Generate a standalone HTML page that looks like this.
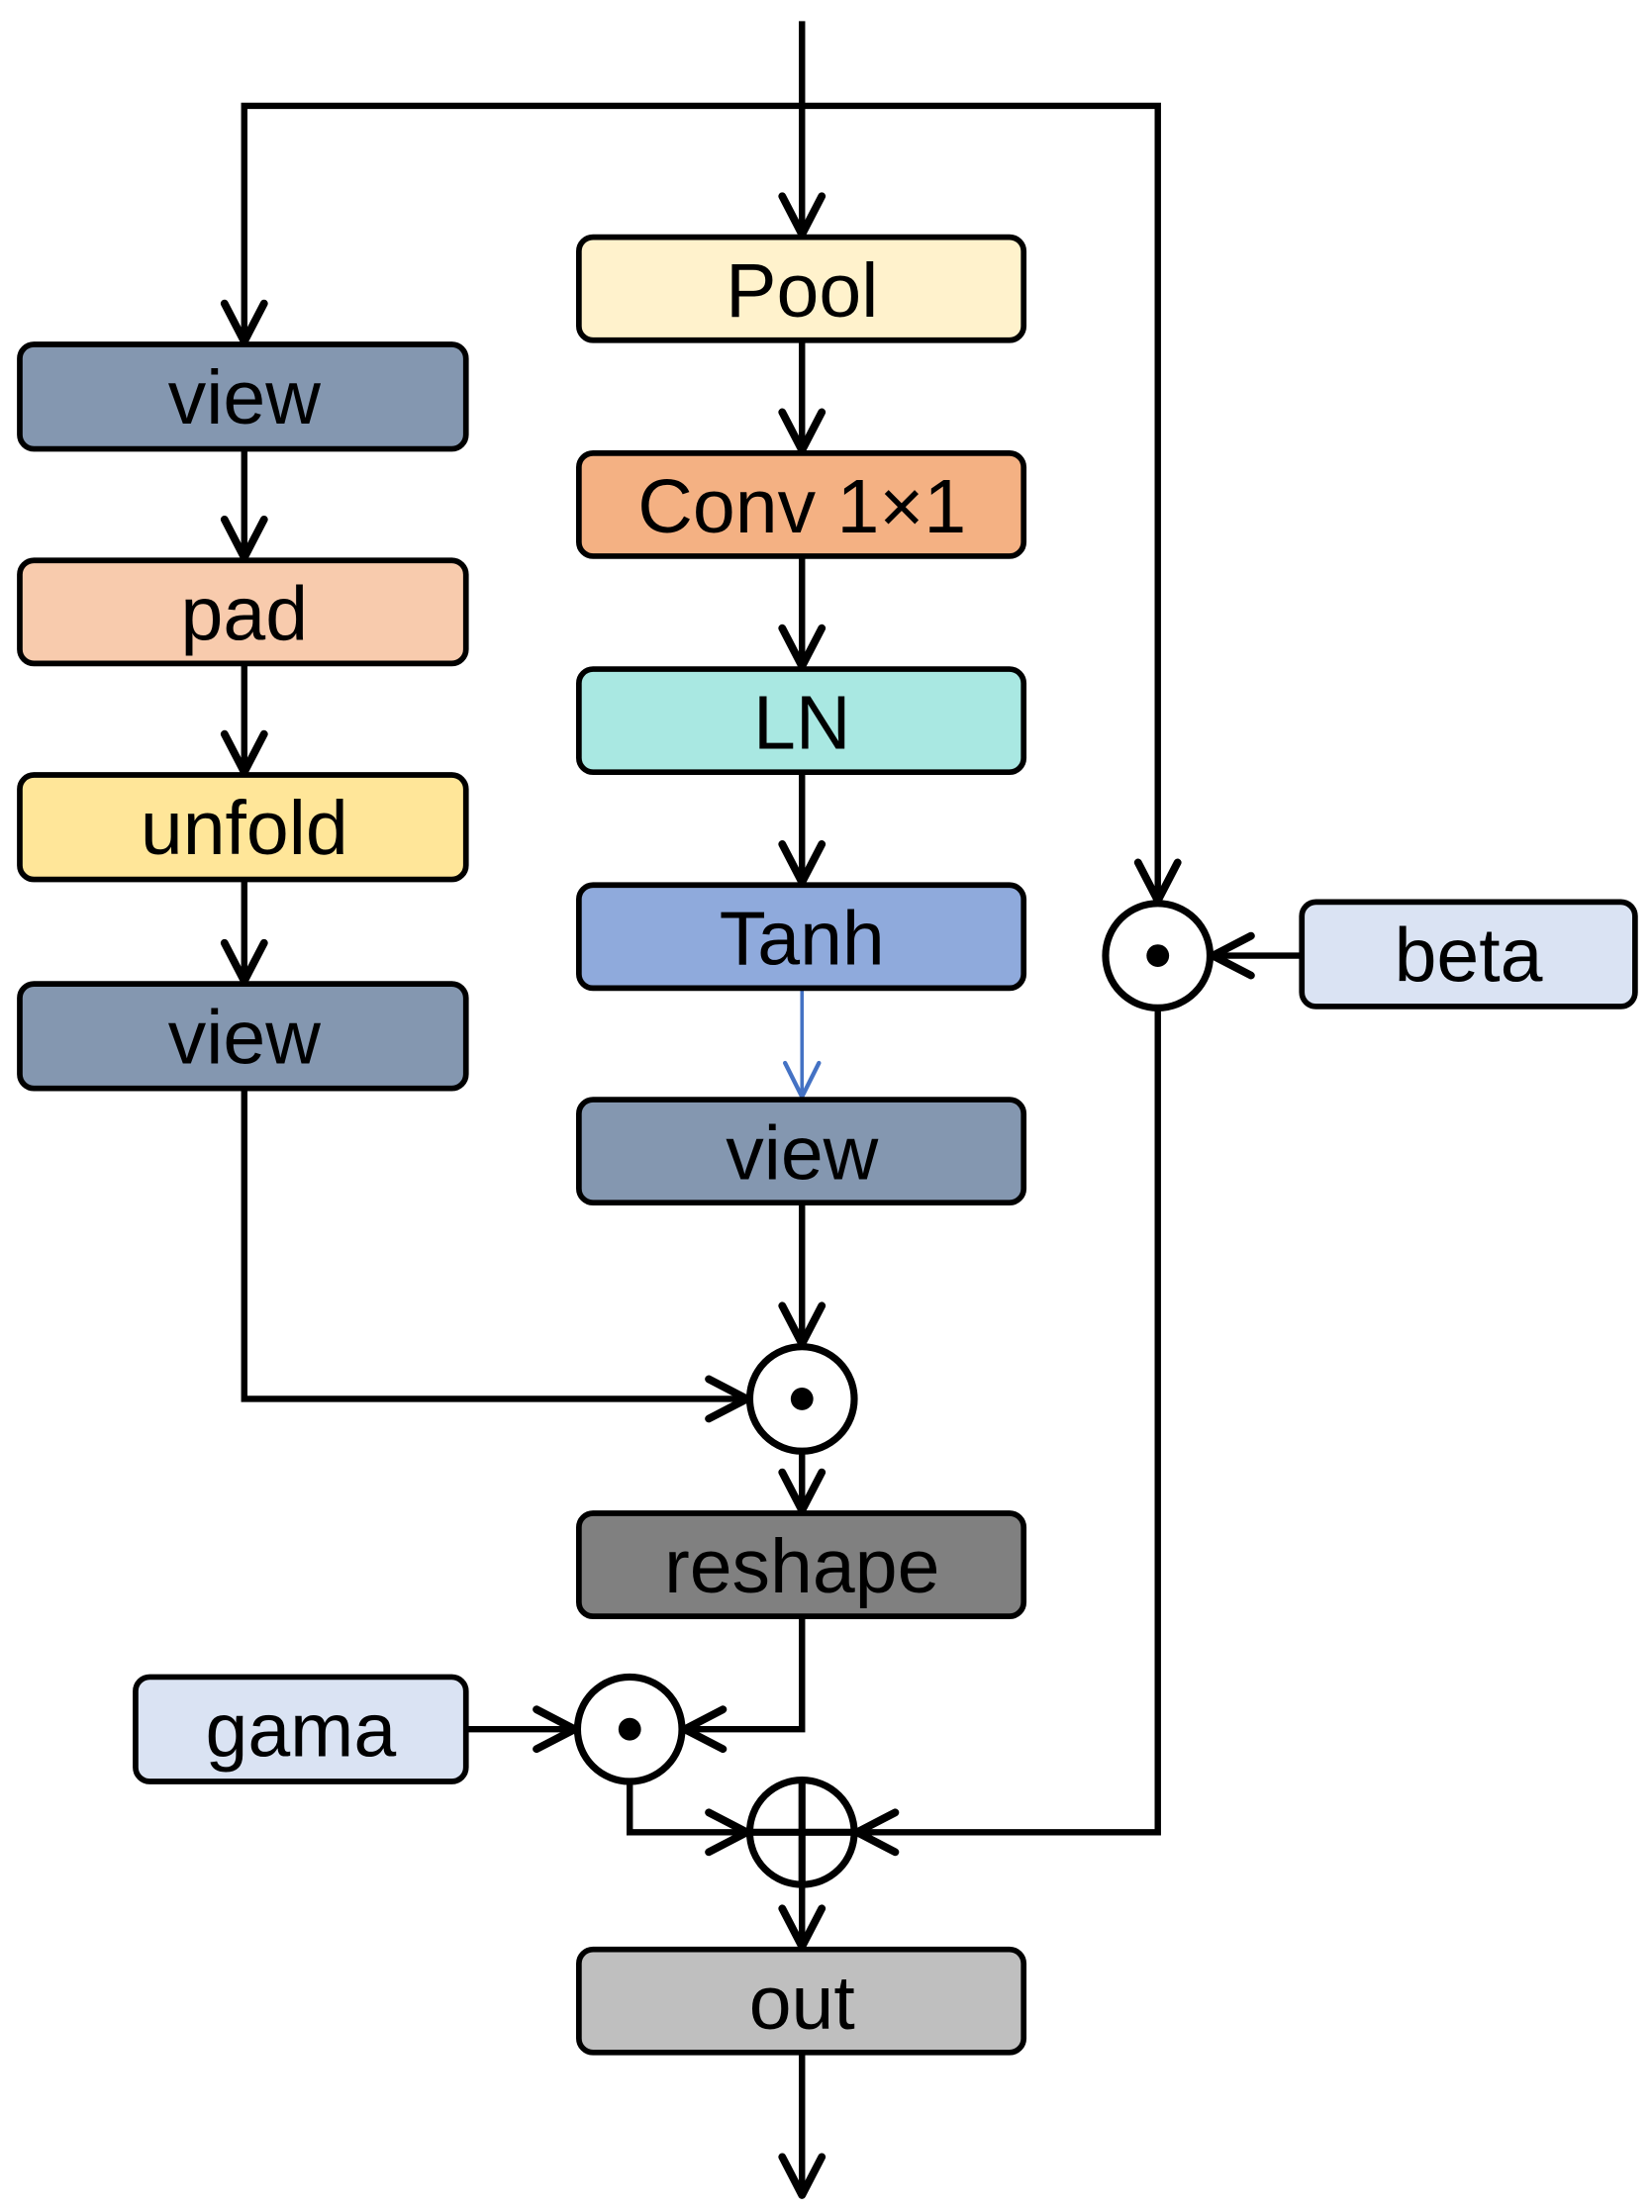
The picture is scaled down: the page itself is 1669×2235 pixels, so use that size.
<!DOCTYPE html>
<html><head><meta charset="utf-8"><style>
html,body{margin:0;padding:0;background:#fff;}
svg{display:block;}
text{font-family:"Liberation Sans",Arial,sans-serif;font-size:54px;text-anchor:middle;dominant-baseline:central;fill:#000;}
</style></head><body>
<svg width="1669" height="2235" viewBox="0 0 1170 1567" preserveAspectRatio="none" xmlns="http://www.w3.org/2000/svg">
<defs>
<marker id="a" viewBox="0 0 34 34" refX="30" refY="17" markerWidth="34" markerHeight="34" markerUnits="userSpaceOnUse" orient="auto">
<path d="M3,3 L30,17 L3,31" fill="none" stroke="#000" stroke-width="5.5" stroke-linecap="round" stroke-linejoin="round"/></marker>
<marker id="b" viewBox="0 0 34 34" refX="30" refY="17" markerWidth="34" markerHeight="34" markerUnits="userSpaceOnUse" orient="auto">
<path d="M6,5 L30,17 L6,29" fill="none" stroke="#4472C4" stroke-width="3" stroke-linecap="round"/></marker>
</defs>
<g fill="none" stroke="#000" stroke-width="4.5">
<path d="M568,15 V166" marker-end="url(#a)"/>
<path d="M568,75 H173 V242" marker-end="url(#a)"/>
<path d="M568,75 H820 V638" marker-end="url(#a)"/>
<path d="M922,677 H859" marker-end="url(#a)"/>
<path d="M568,241 V319" marker-end="url(#a)"/>
<path d="M568,394 V472" marker-end="url(#a)"/>
<path d="M568,547 V625" marker-end="url(#a)"/>
<path d="M173,318 V395" marker-end="url(#a)"/>
<path d="M173,470 V547" marker-end="url(#a)"/>
<path d="M173,623 V695" marker-end="url(#a)"/>
<path d="M173,771 V991 H529" marker-end="url(#a)"/>
<path d="M568,852 V952" marker-end="url(#a)"/>
<path d="M568,1028 V1070" marker-end="url(#a)"/>
<path d="M568,1145 V1225 H485" marker-end="url(#a)"/>
<path d="M330,1225 H407" marker-end="url(#a)"/>
<path d="M446,1262 V1298 H529" marker-end="url(#a)"/>
<path d="M820,714 V1298 H607" marker-end="url(#a)"/>
<path d="M568,1335 V1379" marker-end="url(#a)"/>
<path d="M568,1454 V1555" marker-end="url(#a)"/>
</g>
<path d="M568,700 V777" stroke="#4472C4" stroke-width="2.5" fill="none" marker-end="url(#b)"/>
<g stroke="#000" stroke-width="4">
<rect x="410" y="168" width="315" height="73" rx="10" fill="#FFF2CC"/>
<rect x="410" y="321" width="315" height="73" rx="10" fill="#F4B183"/>
<rect x="410" y="474" width="315" height="73" rx="10" fill="#A9E8E2"/>
<rect x="410" y="627" width="315" height="73" rx="10" fill="#8FAADC"/>
<rect x="410" y="779" width="315" height="73" rx="10" fill="#8497B0"/>
<rect x="14" y="244" width="316" height="74" rx="10" fill="#8497B0"/>
<rect x="14" y="397" width="316" height="73" rx="10" fill="#F8CBAD"/>
<rect x="14" y="549" width="316" height="74" rx="10" fill="#FFE699"/>
<rect x="14" y="697" width="316" height="74" rx="10" fill="#8497B0"/>
<rect x="410" y="1072" width="315" height="73" rx="10" fill="#808080"/>
<rect x="410" y="1381" width="315" height="73" rx="10" fill="#BFBFBF"/>
<rect x="96" y="1188" width="234" height="74" rx="10" fill="#DAE3F3"/>
<rect x="922" y="639" width="236" height="74" rx="10" fill="#DAE3F3"/>
</g>
<g stroke="#000" stroke-width="5">
<circle cx="820" cy="677" r="37" fill="#fff"/>
<circle cx="568" cy="991" r="37" fill="#fff"/>
<circle cx="446" cy="1225" r="37" fill="#fff"/>
<circle cx="568" cy="1298" r="37" fill="#fff"/>
<path d="M531,1298 H605 M568,1261 V1335" fill="none"/>
</g>
<circle cx="820" cy="677" r="8"/>
<circle cx="568" cy="991" r="8"/>
<circle cx="446" cy="1225" r="8"/>
<text x="568" y="206">Pool</text>
<text x="568" y="359">Conv 1×1</text>
<text x="568" y="512">LN</text>
<text x="568" y="665">Tanh</text>
<text x="568" y="817">view</text>
<text x="173" y="282">view</text>
<text x="173" y="435">pad</text>
<text x="173" y="587">unfold</text>
<text x="173" y="735">view</text>
<text x="568" y="1110">reshape</text>
<text x="568" y="1419">out</text>
<text x="213" y="1226">gama</text>
<text x="1040" y="677">beta</text>
</svg>
</body></html>
